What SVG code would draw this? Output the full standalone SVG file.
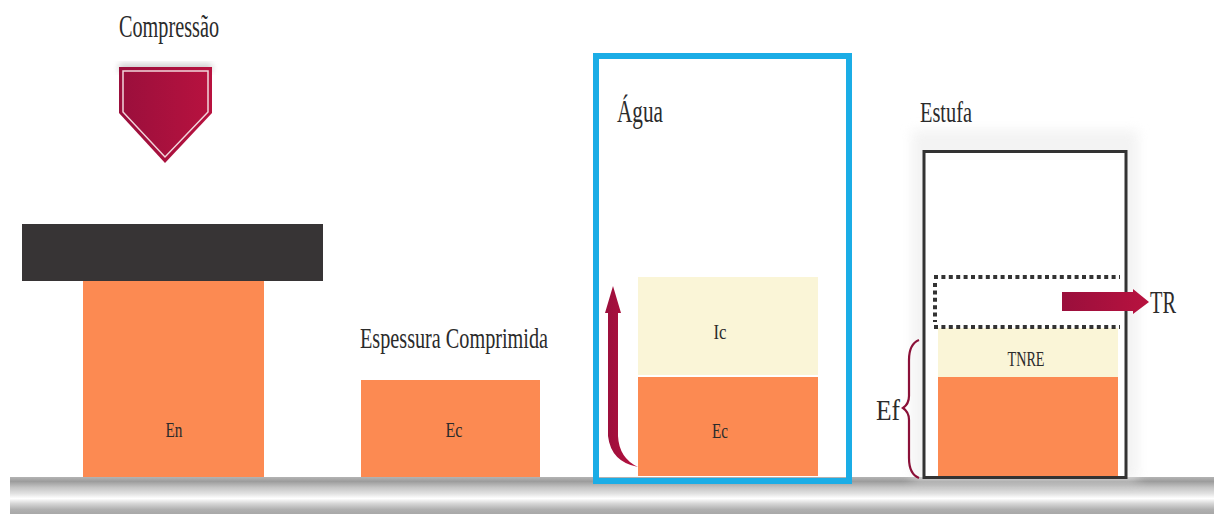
<svg xmlns="http://www.w3.org/2000/svg" width="1214" height="514" viewBox="0 0 1214 514">
<style>
text{font-family:'Liberation Serif','DejaVu Serif',serif;fill:#2b2b2b}
.lbl{font-size:22px;text-anchor:middle}
.orange{fill:#FC8A52}
.cream{fill:#FAF5D7}
</style>
<defs>
<linearGradient id="rail" x1="0" y1="0" x2="0" y2="1">
<stop offset="0" stop-color="#b4b4b4"/>
<stop offset="0.12" stop-color="#9c9c9c"/>
<stop offset="0.28" stop-color="#c4c4c4"/>
<stop offset="0.45" stop-color="#e2e2e2"/>
<stop offset="0.58" stop-color="#ffffff"/>
<stop offset="0.72" stop-color="#d6d6d6"/>
<stop offset="0.88" stop-color="#b0b0b0"/>
<stop offset="1" stop-color="#a8a8a8"/>
</linearGradient>
<linearGradient id="crimson" x1="0" y1="0" x2="1" y2="0">
<stop offset="0" stop-color="#9A0F3C"/>
<stop offset="1" stop-color="#B8123F"/>
</linearGradient>
<filter id="soft" x="-20%" y="-20%" width="140%" height="140%">
<feGaussianBlur stdDeviation="6"/>
</filter>
<filter id="sh" x="-30%" y="-30%" width="160%" height="160%">
<feGaussianBlur stdDeviation="3"/>
</filter>
</defs>
<rect width="1214" height="514" fill="#ffffff"/>

<g id="rail-base">
<rect x="10" y="477" width="1204" height="37" fill="url(#rail)"/>
</g>

<g id="compressao">
<text x="119" y="37" font-family="Liberation Serif" font-size="31" textLength="100" lengthAdjust="spacingAndGlyphs">Compressão</text>
<path d="M119 64 L212 64 L212 72 L119 72 Z" fill="#999" opacity="0.5" filter="url(#sh)"/>
<path d="M119 67 L212 67 L212 113 L165 163 L119 113 Z" fill="url(#crimson)"/>
<path d="M123 71 L208 71 L208 112 L165 157 L123 112 Z" fill="none" stroke="#f2d6dc" stroke-width="1.5"/>
</g>

<g id="prensa">
<rect x="22" y="224" width="301" height="57" fill="#373435"/>
<rect class="orange" x="83" y="281" width="181" height="196"/>
<text class="lbl" x="174" y="437" font-family="Liberation Serif" textLength="17" lengthAdjust="spacingAndGlyphs">En</text>
</g>

<g id="espessura">
<text x="360" y="348" font-family="Liberation Serif" font-size="30" textLength="188" lengthAdjust="spacingAndGlyphs">Espessura Comprimida</text>
<rect class="orange" x="361" y="380" width="179" height="97"/>
<text class="lbl" x="454" y="437" font-family="Liberation Serif" textLength="17" lengthAdjust="spacingAndGlyphs">Ec</text>
</g>

<g id="agua">
<rect x="596" y="56" width="253" height="425" fill="none" stroke="#1BADE6" stroke-width="6"/>
<text x="617" y="122" font-family="Liberation Serif" font-size="31" textLength="46" lengthAdjust="spacingAndGlyphs">Água</text>
<rect class="cream" x="638" y="277" width="180" height="98"/>
<text class="lbl" x="720" y="339" font-family="Liberation Serif" textLength="13" lengthAdjust="spacingAndGlyphs">Ic</text>
<rect class="orange" x="638" y="377" width="180" height="99"/>
<text class="lbl" x="720" y="438" font-family="Liberation Serif" textLength="16" lengthAdjust="spacingAndGlyphs">Ec</text>
</g>

<g id="estufa">
<rect x="912" y="130" width="226" height="350" fill="#eeeeee" filter="url(#soft)" opacity="0.7"/>
<rect x="924" y="151.5" width="202" height="326" fill="#ffffff"/>
<text x="920" y="122" font-family="Liberation Serif" font-size="30" textLength="52" lengthAdjust="spacingAndGlyphs">Estufa</text>
<rect class="cream" x="938" y="328" width="180" height="49"/>
<text class="lbl" x="1026" y="366" font-family="Liberation Serif" font-size="20" textLength="37" lengthAdjust="spacingAndGlyphs">TNRE</text>
<rect class="orange" x="938" y="377" width="180" height="99"/>
<rect x="924" y="151.5" width="202" height="326" fill="none" stroke="#333333" stroke-width="3"/>
<g fill="none" stroke="#333333" stroke-width="4" stroke-dasharray="4 3.4">
<line x1="934" y1="277" x2="1120" y2="277"/>
<line x1="934" y1="327" x2="1120" y2="327"/>
<line x1="935" y1="283" x2="935" y2="322"/>
</g>
<text x="1150" y="313" font-family="Liberation Serif" font-size="32" textLength="26" lengthAdjust="spacingAndGlyphs">TR</text>
<text x="876" y="420" font-family="Liberation Serif" font-size="30" textLength="24" lengthAdjust="spacingAndGlyphs">Ef</text>
</g>

<g id="connectors">
<path d="M613 286 L621 313 L618 313 L618 436 Q619 458 638 467 Q611 462 608 436 L608 313 L605 313 Z" fill="url(#crimson)"/>
<path d="M1062 292 L1133 292 L1133 289 L1149 302 L1133 314 L1133 311 L1062 311 Z" fill="url(#crimson)"/>
<path d="M919 340 Q909 344 909 360 L909 396 Q909 404 903 408 Q909 412 909 420 L909 458 Q909 474 919 478" fill="none" stroke="#8A1038" stroke-width="2.2"/>
</g>
</svg>
